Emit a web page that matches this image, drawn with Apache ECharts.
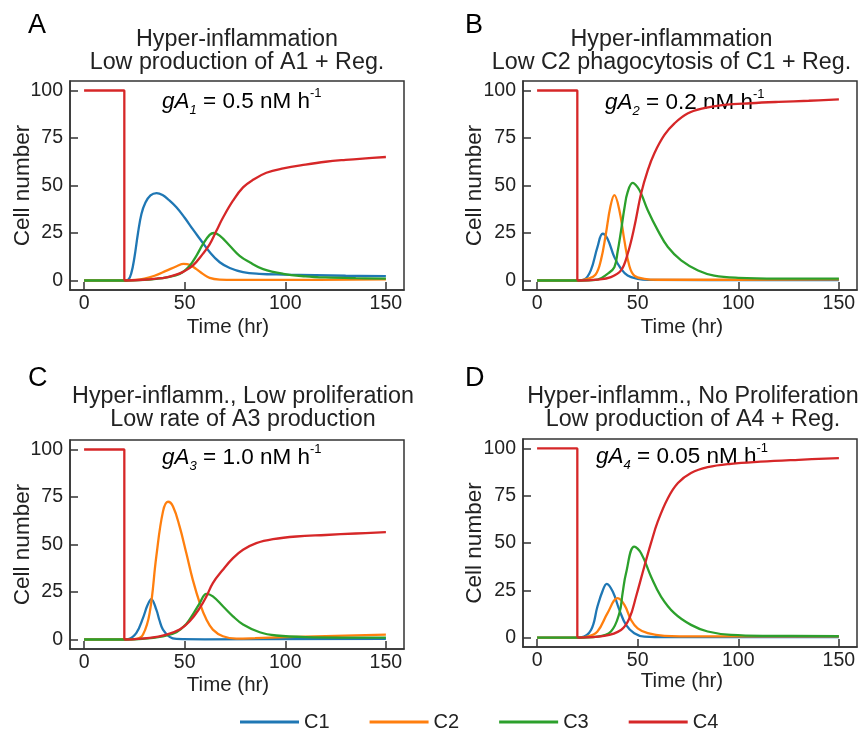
<!DOCTYPE html>
<html><head><meta charset="utf-8">
<script src="https://cdn.jsdelivr.net/npm/echarts@6/dist/echarts.min.js"></script>
<style>html,body{margin:0;padding:0;background:#fff}#c{width:859px;height:731px}</style>
</head><body><div id="c"></div>
<script>
// ---- tick labels / categories ----
const xTicks = [0, 50, 100, 150];
const yTicks = [0, 25, 50, 75, 100];
const seriesNames = ['C1', 'C2', 'C3', 'C4'];
const panelLetters = ['A', 'B', 'C', 'D'];
const titleLine1 = ['Hyper-inflammation', 'Hyper-inflammation', 'Hyper-inflamm., Low proliferation', 'Hyper-inflamm., No Proliferation'];
const titleLine2 = ['Low production of A1 + Reg.', 'Low C2 phagocytosis of C1 + Reg.', 'Low rate of A3 production', 'Low production of A4 + Reg.'];
const annotSub = ['1', '2', '3', '4'];
const annotVal = ['0.5', '0.2', '1.0', '0.05'];

// ---- data: [time (hr), cell number] ----
const C4_step = [[0, 100], [20, 100], [20, 0]];

const A_C1 = [[0,0],[20,0],[22,0.5],[23.5,4],[25,12],[26.8,25],[28.5,35],[30.5,41],[33,44.8],[36,46],[39,45],[42,42.5],[46,38.4],[50,33],[54,27],[57.5,22],[62.4,15],[67.4,9.6],[72.4,6.6],[79,4.4],[87,3.5],[99,3.1],[115,2.8],[130,2.5],[150,2.3]];
const A_C2 = [[0,0],[20,0],[25,0.3],[30,1],[35,2.5],[41,5.2],[46,7.5],[49.5,8.7],[52.5,8.2],[55.8,6],[59,3.5],[62.4,1.4],[67.4,0.5],[75,0.3],[100,0.3],[150,0.6]];
const A_C3 = [[0,0],[20,0],[30,0.3],[36,0.9],[41,1.7],[47.5,3.5],[52.5,7.8],[55.8,13],[59,19],[62.4,24],[64.5,25],[67.4,23.6],[72.4,18.3],[77.3,13],[82.3,9.6],[89,6],[99,3.5],[110,2.2],[120,1.6],[135,1.2],[150,1.0]];
const A_C4 = [[20,0],[29,0.4],[36,1],[41,1.7],[45,2.8],[49,4.4],[54,7.8],[59,14],[62.4,19],[65.7,26],[69,33],[74,42],[79,49],[84,53],[90.6,56.7],[99,59],[110,61],[120,62.5],[130,63.5],[140,64.3],[150,65]];

const B_C1 = [[0,0],[20,0],[23.4,0.5],[26.7,5.3],[30,17.6],[32.6,24.6],[35,22],[38.4,12.3],[41.7,6.2],[45,2.6],[50,0.9],[55,0.3],[150,0.2]];
const B_C2 = [[0,0],[20,0],[25,0.9],[29,3],[31.7,10.6],[34.2,24.6],[36.4,38.7],[38.4,44.9],[40.9,37],[43.4,21],[45.8,7.9],[48.3,2.6],[53.3,0.9],[60,0.4],[100,0.4],[150,0.6]];
const B_C3 = [[0,0],[20,0],[30,0.5],[35,3.5],[38.4,7],[40,15],[41.7,26],[43.4,38],[45,46.5],[47.5,51.4],[50,49],[52,45],[55,37],[60,26.4],[65,17.6],[71.6,10.6],[80,5.3],[88,2.6],[100,1.4],[120,1],[150,1]];
const B_C4 = [[20,0],[30,0.5],[36.7,1.8],[41.7,5.3],[45,14],[48.3,28],[51.7,45.8],[55,58],[58.3,67],[63.3,76.6],[68.3,82.7],[75,88],[83,90.7],[93,92.4],[106,93.3],[120,94],[135,94.6],[150,95.3]];

const C_C1 = [[0,0],[20,0],[22,0.2],[26,3.5],[29.3,11.4],[31.5,18],[33.4,21.3],[35.9,15.7],[37.5,10],[39.2,5.2],[42.5,1.4],[45.9,0.3],[60,0.1],[150,0.4]];
const C_C2 = [[0,0],[20,0],[26,0.3],[29.3,2.6],[32.6,14],[35.9,43.7],[39.2,67.3],[41.7,72.5],[44.2,70],[47.5,59.4],[50.8,45.5],[54,31.5],[57.5,19.2],[60.8,10.5],[64,5.2],[69,1.7],[75.7,0.5],[85,0.7],[100,1.2],[120,1.8],[150,2.6]];
const C_C3 = [[0,0],[20,0],[29,0.3],[39.2,1.7],[45.9,3.8],[50.8,8.2],[54,13.1],[57.5,19.2],[60.8,24],[64,22.7],[69,17.5],[74,12.2],[79,7.9],[87.3,3.8],[95.5,2.1],[110,1.3],[150,1]];
const C_C4 = [[20,0],[32.6,0.9],[41,2.6],[47.5,5.2],[52.5,9.6],[57.5,16.6],[60.8,22.7],[64,29.7],[69,36.7],[74,42.8],[79,47.2],[85.6,50.7],[93.9,52.8],[105.5,54.2],[120,55],[135,55.8],[150,56.5]];

const D_C1 = [[0,0],[20,0],[21.8,0.1],[26.8,4],[30,16.4],[32.5,24.5],[34.6,28.4],[37.6,24.3],[40.9,14.6],[44.2,6.7],[48.3,2.3],[53.3,0.5],[65,0.2],[150,0.2]];
const D_C2 = [[0,0],[20,0],[25,0.5],[30,3.2],[35,12.9],[40,20.8],[43.4,17.3],[46.7,9.3],[50,4.9],[55,2.3],[63.3,0.9],[80,0.6],[150,0.6]];
const D_C3 = [[0,0],[20,0],[30,0.5],[36.7,3.2],[40.9,12.9],[42.5,23.5],[44.2,34],[48.3,48.1],[51.7,44.6],[56.6,32.3],[61.6,21.7],[68.2,12.9],[76.5,6.7],[84.8,3.2],[96.4,1.4],[115,0.9],[150,0.8]];
const D_C4 = [[20,0],[33.4,0.9],[41.7,4],[45.9,10.2],[49.2,21.7],[53.3,37.6],[56.6,49.9],[60,61.4],[65,73.7],[70,81.7],[76.5,87],[84.8,90.1],[96.4,91.9],[111,93],[130,94],[150,94.9]];

const panelData = [[A_C1, A_C2, A_C3, A_C4], [B_C1, B_C2, B_C3, B_C4], [C_C1, C_C2, C_C3, C_C4], [D_C1, D_C2, D_C3, D_C4]];

// ---- layout / style ----
const colors = ['#1f77b4', '#ff7f0e', '#2ca02c', '#d62728'];
const FONT = "'Liberation Sans', Arial, sans-serif";
const TXT = '#222';
const grids = [
  {left: 70, top: 81, width: 334, height: 209},
  {left: 523, top: 81, width: 334, height: 209},
  {left: 70, top: 440, width: 334, height: 209},
  {left: 523, top: 439, width: 334, height: 208}
];
const titlePos = [[237, 40, 62.5], [671.5, 40, 62.5], [243, 397, 420], [693, 396.5, 420]];
const letterPos = [[28, 26], [465, 26], [28, 379], [465, 379]];
const yNamePos = [[22.7, 185.5], [475, 185.5], [22.7, 544.5], [475, 543]];
const xNamePos = [[228, 327], [682, 327], [228, 685], [682, 681.5]];
const annotPos = [[162, 102], [605, 102.5], [162, 458], [596, 457]];

const xAxes = [], yAxes = [], series = [], graphics = [];
grids.forEach((g, i) => {
  xAxes.push({
    gridIndex: i, type: 'value', min: -7, max: 159,
    axisLine: {show: true, onZero: false, lineStyle: {color: '#333', width: 1.5}},
    axisTick: {show: true, inside: true, length: 8, customValues: xTicks, lineStyle: {color: '#333', width: 1.5}},
    axisLabel: {customValues: xTicks, fontSize: 19.5, color: TXT, fontFamily: FONT, margin: 4},
    splitLine: {show: false}
  });
  yAxes.push({
    gridIndex: i, type: 'value', min: -5, max: 105,
    axisLine: {show: true, onZero: false, lineStyle: {color: '#333', width: 1.5}},
    axisTick: {show: true, inside: true, length: 8, customValues: yTicks, lineStyle: {color: '#333', width: 1.5}},
    axisLabel: {customValues: yTicks, fontSize: 19.5, color: TXT, fontFamily: FONT, margin: 7},
    splitLine: {show: false}
  });
  panelData[i].forEach((d, k) => {
    series.push({
      name: seriesNames[k], type: 'line', xAxisIndex: i, yAxisIndex: i, data: d,
      showSymbol: false, smooth: 0.4, color: colors[k],
      lineStyle: {width: 2.3, color: colors[k]}, z: 2 + k
    });
  });
  series.push({
    name: 'C4', type: 'line', xAxisIndex: i, yAxisIndex: i, data: C4_step,
    showSymbol: false, smooth: false, color: colors[3],
    lineStyle: {width: 2.3, color: colors[3]}, z: 5
  });
  const tp = titlePos[i];
  graphics.push({type: 'text', x: tp[0], y: tp[1], style: {text: titleLine1[i], fontSize: 23.3, fontFamily: FONT, fill: TXT, align: 'center', verticalAlign: 'middle'}});
  graphics.push({type: 'text', x: tp[0], y: tp[2], style: {text: titleLine2[i], fontSize: 23.3, fontFamily: FONT, fill: TXT, align: 'center', verticalAlign: 'middle'}});
  graphics.push({type: 'text', x: letterPos[i][0], y: letterPos[i][1], style: {text: panelLetters[i], fontSize: 27, fontFamily: FONT, fill: '#000', align: 'left', verticalAlign: 'middle'}});
  graphics.push({type: 'text', x: yNamePos[i][0], y: yNamePos[i][1], rotation: Math.PI / 2, style: {text: 'Cell number', fontSize: 22.5, fontFamily: FONT, fill: TXT, align: 'center', verticalAlign: 'middle'}});
  graphics.push({type: 'text', x: xNamePos[i][0], y: xNamePos[i][1], style: {text: 'Time (hr)', fontSize: 20.5, fontFamily: FONT, fill: TXT, align: 'center', verticalAlign: 'middle'}});
  graphics.push({type: 'text', x: annotPos[i][0], y: annotPos[i][1], z: 1, style: {
    text: '{i|gA}{s|' + annotSub[i] + '}{n| = ' + annotVal[i] + ' nM h}{p|-1}',
    align: 'left', verticalAlign: 'middle', fill: '#000', fontFamily: FONT,
    rich: {
      i: {fontSize: 22.5, fontStyle: 'italic', fontFamily: FONT, lineHeight: 30, verticalAlign: 'middle', fill: '#000'},
      s: {fontSize: 13, fontStyle: 'italic', fontFamily: FONT, lineHeight: 13, verticalAlign: 'bottom', fill: '#000'},
      n: {fontSize: 22.5, fontFamily: FONT, lineHeight: 30, verticalAlign: 'middle', fill: '#000'},
      p: {fontSize: 13, fontFamily: FONT, lineHeight: 13, verticalAlign: 'top', fill: '#000'}
    }
  }});
});

const chart = echarts.init(document.getElementById('c'), null, {renderer: 'canvas'});
chart.setOption({
  backgroundColor: '#fff',
  animation: false,
  grid: grids.map(g => Object.assign({show: true, borderColor: '#333', borderWidth: 1.5, backgroundColor: 'transparent', containLabel: false}, g)),
  xAxis: xAxes,
  yAxis: yAxes,
  legend: {
    data: seriesNames, left: 235, top: 707, icon: 'rect', itemWidth: 59, itemHeight: 3, itemGap: 40,
    textStyle: {fontSize: 20, color: TXT, fontFamily: FONT, padding: [0, 0, 0, 0]}
  },
  series: series,
  graphic: graphics
});
</script></body></html>
